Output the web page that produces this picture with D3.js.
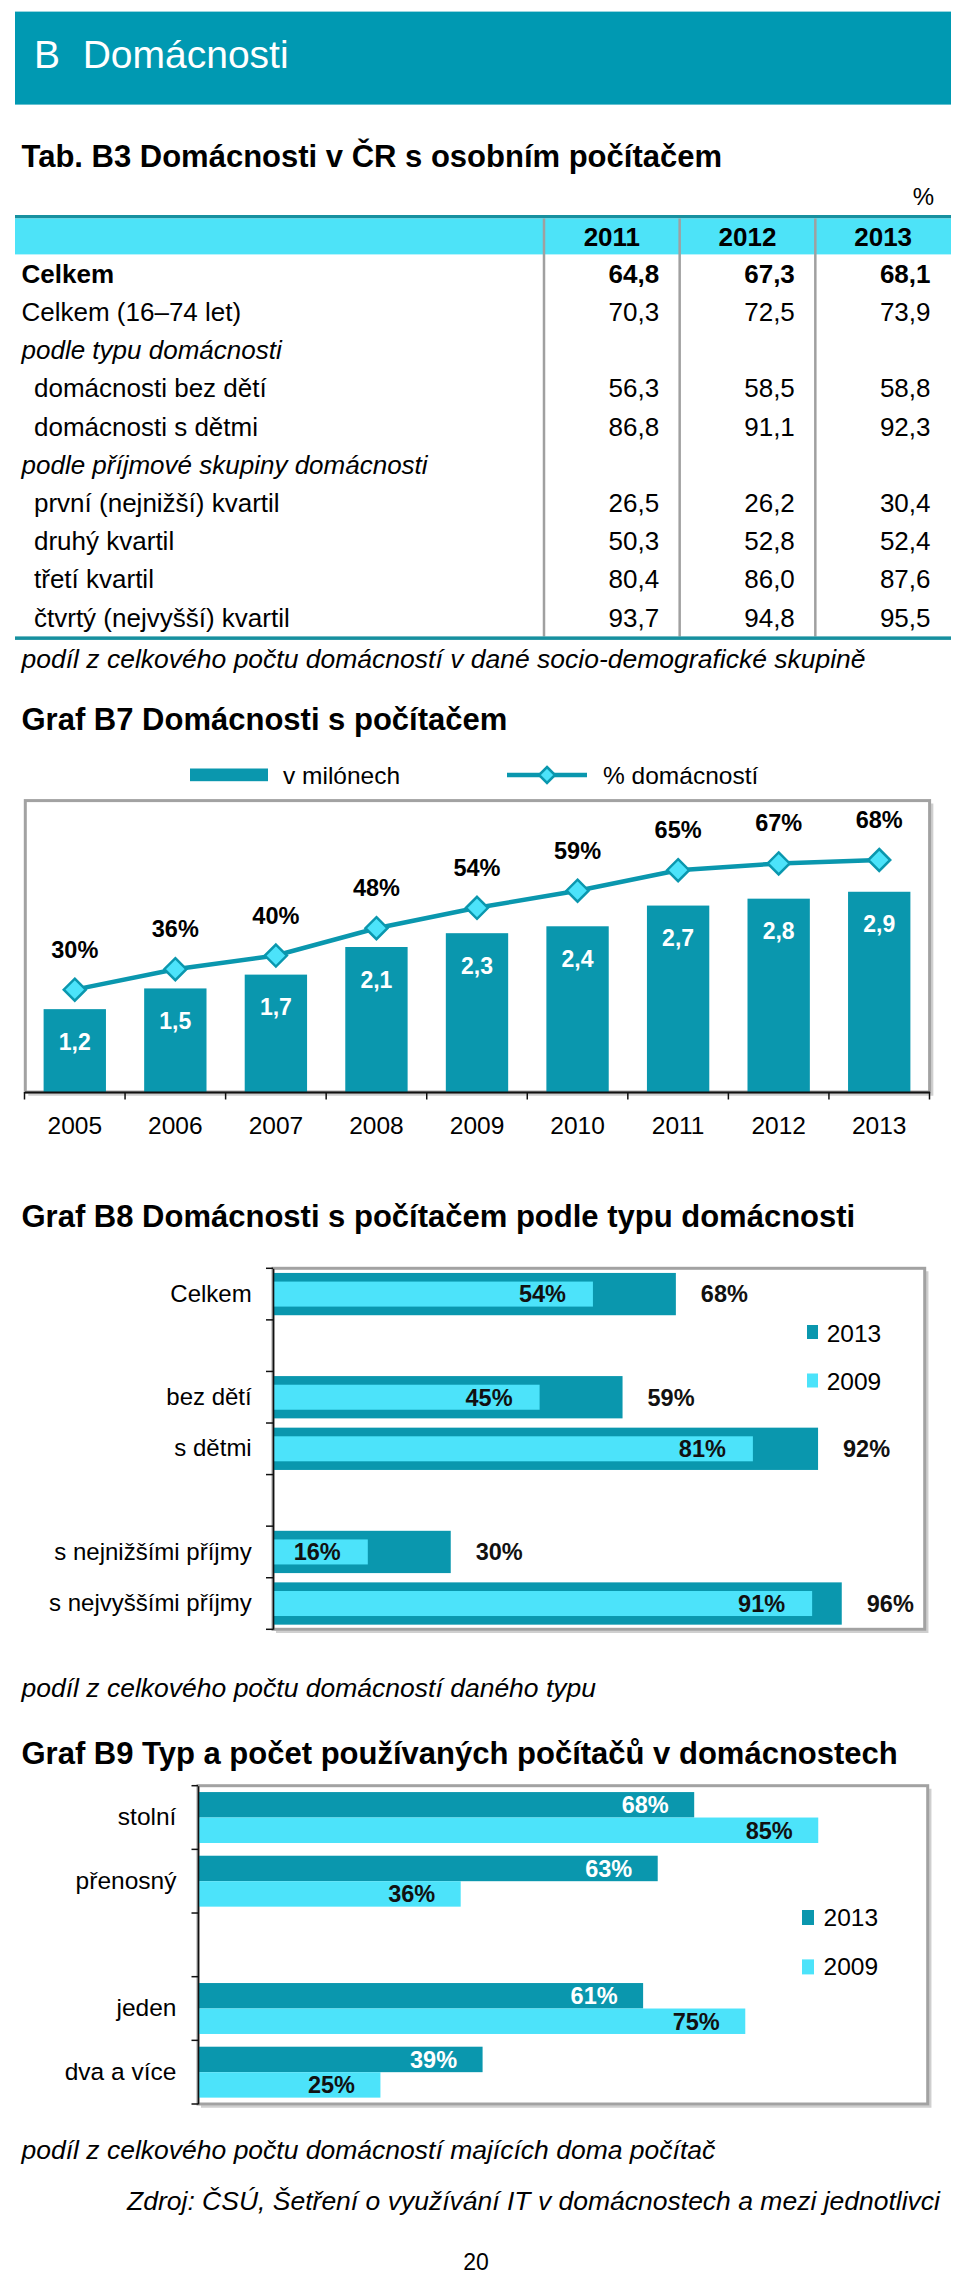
<!DOCTYPE html>
<html><head><meta charset="utf-8">
<script src="https://cdn.jsdelivr.net/npm/d3@7"></script>
<style>body{margin:0;background:#fff}svg{display:block}text{font-family:"Liberation Sans",Arial,Helvetica,sans-serif}</style>
</head><body><svg id="c" width="960" height="2278"></svg>
<script>
// ---------- data ----------
const tableYears = ["2011", "2012", "2013"];
const tableLabels = ["Celkem", "Celkem (16–74 let)", "podle typu domácnosti", "domácnosti bez dětí",
  "domácnosti s dětmi", "podle příjmové skupiny domácnosti", "první (nejnižší) kvartil",
  "druhý kvartil", "třetí kvartil", "čtvrtý (nejvyšší) kvartil"];
const tableRowKinds = ["total", "plain", "section", "sub", "sub", "section", "sub", "sub", "sub", "sub"];
const table2011 = [64.8, 70.3, null, 56.3, 86.8, null, 26.5, 50.3, 80.4, 93.7];
const table2012 = [67.3, 72.5, null, 58.5, 91.1, null, 26.2, 52.8, 86.0, 94.8];
const table2013 = [68.1, 73.9, null, 58.8, 92.3, null, 30.4, 52.4, 87.6, 95.5];

const b7Years = ["2005", "2006", "2007", "2008", "2009", "2010", "2011", "2012", "2013"];
const b7Millions = [1.2, 1.5, 1.7, 2.1, 2.3, 2.4, 2.7, 2.8, 2.9];
const b7Percent = [30, 36, 40, 48, 54, 59, 65, 67, 68];
const b7SeriesNames = ["v milónech", "% domácností"];

const b8Categories = ["Celkem", "", "bez dětí", "s dětmi", "", "s nejnižšími příjmy", "s nejvyššími příjmy"];
const b8Values2013 = [68, null, 59, 92, null, 30, 96];
const b8Values2009 = [54, null, 45, 81, null, 16, 91];

const b9Categories = ["stolní", "přenosný", "", "jeden", "dva a více"];
const b9Values2013 = [68, 63, null, 61, 39];
const b9Values2009 = [85, 36, null, 75, 25];

const legendSeries = ["2013", "2009"];

// ---------- style ----------
const TEAL = "#0a97ae", CYAN = "#4ce3fa", BAND = "#0099b2", DARKLINE = "#17909f", FRAME = "#a2a2a2";
const svg = d3.select("#c");
svg.append("rect").attr("width", 960).attr("height", 2278).attr("fill", "#fff");
const fmt = d3.formatLocale({decimal: ",", thousands: " ", grouping: [3], currency: ["", ""]}).format(".1f");

function T(x, y, s, o = {}) {
  const t = svg.append("text").attr("x", x).attr("y", y).text(s)
    .attr("font-size", o.size || 26).attr("fill", o.fill || "#000");
  if (o.bold) t.attr("font-weight", "bold");
  if (o.italic) t.attr("font-style", "italic");
  if (o.anchor) t.attr("text-anchor", o.anchor);
  return t;
}
function frame(x0, y0, x1, y1) {
  svg.append("path").attr("d", `M${x1 + 2.5},${y0 + 3}V${y1 + 2.5}H${x0 + 3}`)
    .attr("fill", "none").attr("stroke", "#cfcfcf").attr("stroke-width", 2.5);
  svg.append("rect").attr("x", x0).attr("y", y0).attr("width", x1 - x0).attr("height", y1 - y0)
    .attr("fill", "#fff").attr("stroke", FRAME).attr("stroke-width", 3);
}

// ---------- header ----------
svg.append("rect").attr("x", 15).attr("y", 11.6).attr("width", 936).attr("height", 93).attr("fill", BAND);
T(34, 68, "B", {size: 39, fill: "#fff"});
T(82.7, 68, "Domácnosti", {size: 39, fill: "#fff"});

// ---------- table ----------
T(21.5, 166.7, "Tab. B3 Domácnosti v ČR s osobním počítačem", {size: 31, bold: true});
T(934, 205, "%", {size: 24, anchor: "end"});

const col = d3.scaleBand().domain(tableYears).range([544, 951]);
const row = d3.scaleBand().domain(d3.range(tableLabels.length)).range([254.4, 254.4 + 38.2 * tableLabels.length]);
svg.append("rect").attr("x", 15).attr("y", 215).attr("width", 936).attr("height", 3.5).attr("fill", DARKLINE);
svg.append("rect").attr("x", 15).attr("y", 218.5).attr("width", 936).attr("height", 254.4 - 218.5).attr("fill", "#4de3f8");
const tBottom = row.range()[1];
svg.selectAll(".vline").data(tableYears).join("line")
  .attr("x1", d => col(d)).attr("x2", d => col(d)).attr("y1", 218.5).attr("y2", tBottom)
  .attr("stroke", "#a0a0a0").attr("stroke-width", 2.5);
svg.append("rect").attr("x", 15).attr("y", tBottom).attr("width", 936).attr("height", 3.5).attr("fill", DARKLINE);

tableYears.forEach(y => T(col(y) + col.bandwidth() / 2, 245.5, y, {size: 26, bold: true, anchor: "middle"}));
const tableCols = [table2011, table2012, table2013];
tableLabels.forEach((lab, i) => {
  const kind = tableRowKinds[i];
  const cy = row(i) + row.bandwidth() / 2 + 9.3;
  T(kind === "sub" ? 34 : 21.5, cy, lab, {size: 26, bold: kind === "total", italic: kind === "section"});
  tableCols.forEach((vals, j) => {
    if (vals[i] == null) return;
    T(col(tableYears[j]) + col.bandwidth() - 20.5, cy, fmt(vals[i]), {size: 26, bold: kind === "total", anchor: "end"});
  });
});
T(21.5, 668, "podíl z celkového počtu domácností v dané socio-demografické skupině", {size: 26.5, italic: true});

// ---------- Graf B7 ----------
T(21.5, 730, "Graf B7 Domácnosti s počítačem", {size: 31, bold: true});
svg.append("rect").attr("x", 190).attr("y", 768.5).attr("width", 78).attr("height", 12.7).attr("fill", TEAL);
T(283, 784, b7SeriesNames[0], {size: 24.5});
svg.append("line").attr("x1", 507).attr("x2", 587).attr("y1", 775).attr("y2", 775).attr("stroke", TEAL).attr("stroke-width", 4.5);
svg.append("path").attr("d", "M0,-8L8,0L0,8L-8,0Z").attr("transform", "translate(547,775)")
  .attr("fill", CYAN).attr("stroke", TEAL).attr("stroke-width", 2.5);
T(603, 784, b7SeriesNames[1], {size: 24.5});

const b7Top = 800.6, b7Base = 1092;
frame(25.3, b7Top, 929.6, b7Base);
const x7 = d3.scaleBand().domain(b7Years).range([24.5, 929.5]);
const yM = d3.scaleLinear().domain([0, 4.2]).range([b7Base, 802]);
const yP = d3.scaleLinear().domain([0, 85]).range([b7Base, 802]);
const cx7 = d => x7(d) + x7.bandwidth() / 2;
const bw7 = x7.bandwidth() * 0.62;

svg.append("g").selectAll("rect").data(b7Years).join("rect")
  .attr("x", d => cx7(d) - bw7 / 2).attr("width", bw7)
  .attr("y", (d, i) => yM(b7Millions[i])).attr("height", (d, i) => yM(0) - yM(b7Millions[i]))
  .attr("fill", TEAL);
svg.append("g").selectAll("text").data(b7Years).join("text")
  .attr("x", d => cx7(d)).attr("y", (d, i) => yM(b7Millions[i]) + 40.5)
  .attr("text-anchor", "middle").attr("font-size", 23).attr("font-weight", "bold").attr("fill", "#fff")
  .text((d, i) => d3.format(".1f")(b7Millions[i]).replace(".", ","));

// axis
const ax7 = svg.append("g").attr("transform", `translate(0,${b7Base})`)
  .call(d3.axisBottom(x7).tickSize(0).tickSizeOuter(0).tickPadding(25));
ax7.select(".domain").attr("stroke", "#111").attr("stroke-width", 2.2);
ax7.selectAll("text").attr("font-size", 24.5).attr("fill", "#000").attr("font-family", null);
svg.append("g").selectAll("line").data(d3.range(b7Years.length + 1)).join("line")
  .attr("x1", i => x7.range()[0] + i * x7.step()).attr("x2", i => x7.range()[0] + i * x7.step())
  .attr("y1", b7Base).attr("y2", b7Base + 7.5).attr("stroke", "#111").attr("stroke-width", 1.5);

// line
svg.append("path").datum(b7Years)
  .attr("d", d3.line().x(d => cx7(d)).y((d, i) => yP(b7Percent[i])))
  .attr("fill", "none").attr("stroke", TEAL).attr("stroke-width", 4.5);
svg.append("g").selectAll("path").data(b7Years).join("path")
  .attr("d", "M0,-11L11,0L0,11L-11,0Z")
  .attr("transform", (d, i) => `translate(${cx7(d)},${yP(b7Percent[i])})`)
  .attr("fill", CYAN).attr("stroke", TEAL).attr("stroke-width", 2.5);
svg.append("g").selectAll("text").data(b7Years).join("text")
  .attr("x", d => cx7(d)).attr("y", (d, i) => yP(b7Percent[i]) - 32)
  .attr("text-anchor", "middle").attr("font-size", 23.5).attr("font-weight", "bold")
  .text((d, i) => b7Percent[i] + "%");

// ---------- Graf B8 ----------
T(21.5, 1227, "Graf B8 Domácnosti s počítačem podle typu domácnosti", {size: 31, bold: true});
const b8Top = 1268.3, b8Bot = 1629.3, b8L = 273, b8R = 924.7;
frame(b8L, b8Top, b8R, b8Bot);
const y8 = d3.scaleBand().domain(d3.range(b8Categories.length)).range([b8Top, b8Bot]);
const x8 = d3.scaleLinear().domain([0, 110]).range([b8L, b8R]);
const c8 = i => y8(i) + y8.bandwidth() / 2;
const h8a = y8.bandwidth() * 0.82, h8b = y8.bandwidth() * 0.485;
const idx8 = d3.range(b8Categories.length).filter(i => b8Values2013[i] != null);
svg.append("g").selectAll("rect").data(idx8).join("rect")
  .attr("x", x8(0)).attr("y", i => c8(i) - h8a / 2).attr("height", h8a)
  .attr("width", i => x8(b8Values2013[i]) - x8(0)).attr("fill", TEAL);
svg.append("g").selectAll("rect").data(idx8).join("rect")
  .attr("x", x8(0)).attr("y", i => c8(i) - h8b / 2).attr("height", h8b)
  .attr("width", i => x8(b8Values2009[i]) - x8(0)).attr("fill", CYAN);
svg.append("g").selectAll("text").data(idx8).join("text")
  .attr("x", i => x8(b8Values2009[i]) - 27).attr("y", i => c8(i) + 8.3)
  .attr("text-anchor", "end").attr("font-size", 23.5).attr("font-weight", "bold").attr("fill", "#111")
  .text(i => b8Values2009[i] + "%");
svg.append("g").selectAll("text").data(idx8).join("text")
  .attr("x", i => x8(b8Values2013[i]) + 25).attr("y", i => c8(i) + 8.3)
  .attr("font-size", 23.5).attr("font-weight", "bold").attr("fill", "#111")
  .text(i => b8Values2013[i] + "%");
const ax8 = svg.append("g").attr("transform", `translate(${b8L},0)`)
  .call(d3.axisLeft(y8).tickSize(0).tickSizeOuter(0).tickPadding(21.3).tickFormat(i => b8Categories[i]));
ax8.select(".domain").attr("stroke", "#111").attr("stroke-width", 1.6);
ax8.selectAll("text").attr("font-size", 24).attr("fill", "#000").attr("font-family", null);
svg.append("g").selectAll("line").data(d3.range(b8Categories.length + 1)).join("line")
  .attr("x1", b8L - 7).attr("x2", b8L).attr("y1", i => b8Top + i * y8.step()).attr("y2", i => b8Top + i * y8.step())
  .attr("stroke", "#111").attr("stroke-width", 1.5);
// legend
[TEAL, CYAN].forEach((c, k) => {
  svg.append("rect").attr("x", 807).attr("y", 1325 + k * 48.5).attr("width", 11).attr("height", 14).attr("fill", c);
  T(826.7, 1341.5 + k * 48, legendSeries[k], {size: 24.5});
});
T(21.5, 1697, "podíl z celkového počtu domácností daného typu", {size: 26.5, italic: true});

// ---------- Graf B9 ----------
T(21.5, 1764, "Graf B9 Typ a počet používaných počítačů v domácnostech", {size: 31, bold: true});
const b9Top = 1785.7, b9Bot = 2104, b9L = 198, b9R = 927.7;
frame(b9L, b9Top, b9R, b9Bot);
const y9 = d3.scaleBand().domain(d3.range(b9Categories.length)).range([b9Top, b9Bot]);
const s9 = d3.scaleBand().domain(legendSeries).range([0, y9.bandwidth()]).paddingInner(0).paddingOuter(0.25);
const x9 = d3.scaleLinear().domain([0, 100]).range([b9L, b9R]);
const idx9 = d3.range(b9Categories.length).filter(i => b9Values2013[i] != null);
const b9Series = [b9Values2013, b9Values2009];
legendSeries.forEach((s, k) => {
  const vals = b9Series[k];
  svg.append("g").selectAll("rect").data(idx9).join("rect")
    .attr("x", x9(0)).attr("y", i => y9(i) + s9(s)).attr("height", s9.bandwidth())
    .attr("width", i => x9(vals[i]) - x9(0)).attr("fill", k === 0 ? TEAL : CYAN);
  svg.append("g").selectAll("text").data(idx9).join("text")
    .attr("x", i => x9(vals[i]) - 25.5).attr("y", i => y9(i) + s9(s) + s9.bandwidth() / 2 + 8.3)
    .attr("text-anchor", "end").attr("font-size", 23.5).attr("font-weight", "bold")
    .attr("fill", k === 0 ? "#fff" : "#111")
    .text(i => vals[i] + "%");
});
const ax9 = svg.append("g").attr("transform", `translate(${b9L},0)`)
  .call(d3.axisLeft(y9).tickSize(0).tickSizeOuter(0).tickPadding(21.6).tickFormat(i => b9Categories[i]));
ax9.select(".domain").attr("stroke", "#111").attr("stroke-width", 1.6);
ax9.selectAll("text").attr("font-size", 24.5).attr("fill", "#000").attr("font-family", null);
svg.append("g").selectAll("line").data(d3.range(b9Categories.length + 1)).join("line")
  .attr("x1", b9L - 6.5).attr("x2", b9L).attr("y1", i => b9Top + i * y9.step()).attr("y2", i => b9Top + i * y9.step())
  .attr("stroke", "#111").attr("stroke-width", 1.5);
[TEAL, CYAN].forEach((c, k) => {
  svg.append("rect").attr("x", 802).attr("y", 1910 + k * 49.4).attr("width", 12).attr("height", 15).attr("fill", c);
  T(823.6, 1926 + k * 49.4, legendSeries[k], {size: 24.5});
});
T(21.5, 2159, "podíl z celkového počtu domácností majících doma počítač", {size: 26.5, italic: true});
T(940, 2210, "Zdroj: ČSÚ, Šetření o využívání IT v domácnostech a mezi jednotlivci", {size: 26.5, italic: true, anchor: "end"});
T(476, 2270, "20", {size: 23, anchor: "middle"});
</script>
</body></html>
